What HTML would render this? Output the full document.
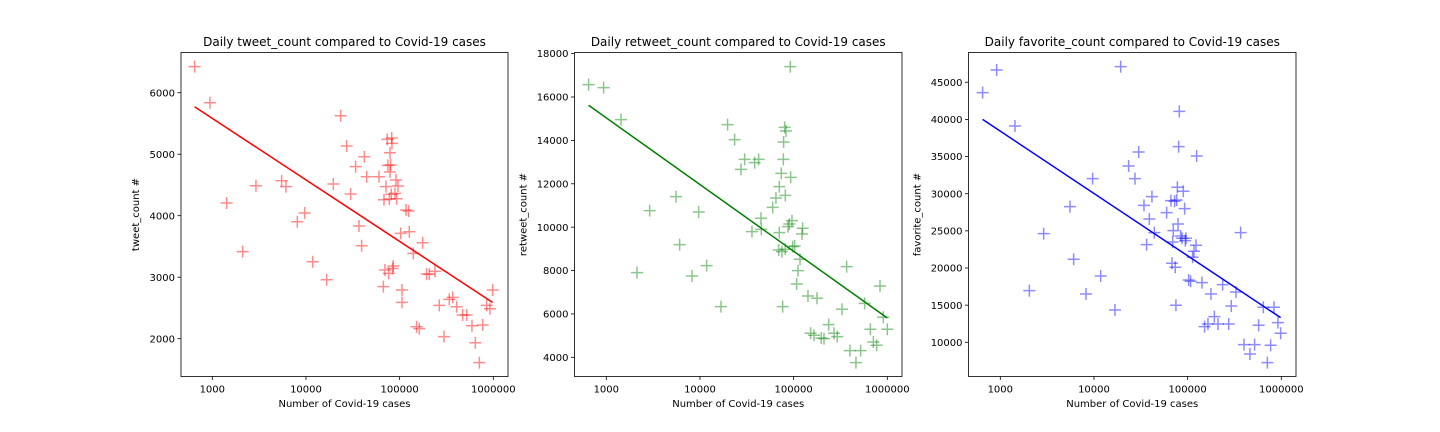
<!DOCTYPE html>
<html><head><meta charset="utf-8"><style>
html,body{margin:0;padding:0;background:#fff;}
svg{display:block;font-family:"DejaVu Sans","Liberation Sans",sans-serif;}
</style></head><body>
<svg id="fig" width="1440" height="432" viewBox="0 0 1440 432" xmlns="http://www.w3.org/2000/svg"></svg>
<script>
// ---- data ----
const tweetCases=[647,944,1422,2108,2925,5500,6110,8080,9680,11780,16630,19590,23440,27160,29990,33890,36810,39260,41980,44460,60120,66990,68070,71450,73790,75000,76380,77620,78890,78890,80170,81470,82220,82790,84140,85510,69660,89130,91410,92900,95940,102500,105900,105900,116900,124700,126800,139900,151700,162200,176000,194100,207500,238200,264900,297200,338800,368100,406000,470900,518800,591600,642700,709600,769100,849200,920400,984000];
const tweetCounts=[6423,5837,4206,3415,4488,4569,4472,3902,4043,3252,2959,4515,5626,5133,4352,4797,3832,3512,4959,4634,4634,2846,4260,4472,5241,4818,3062,4271,4710,5024,4824,4347,5263,5176,3144,3182,3117,4363,4580,4276,4482,3713,2791,2591,4092,4076,3740,3388,2195,2163,3561,3051,3051,3095,2542,2033,2640,2672,2520,2385,2385,2211,1935,1610,2222,2542,2488,2791];
const retweetCases=[647,937,1435,2125,2903,5546,6067,8219,9680,11780,16750,19720,23440,27420,29990,35890,38370,42270,44770,45190,59700,64710,69180,70310,70310,73790,75000,76380,77620,78160,80170,81470,82790,81470,87100,89950,92900,95940,97500,102500,107600,111200,116900,122700,124700,142200,151700,164800,177400,197200,210900,236600,269800,292400,328100,368100,399000,462400,518800,572800,659200,709600,769100,835700,905700,1000000,92040];
const retweetCounts=[16569,16431,14956,7903,10761,11406,9194,7749,10700,8226,6336,14725,14034,12666,13127,9793,12974,13127,10408,9900,10915,11345,8948,11867,9747,12482,8871,6336,13127,13926,14602,11468,14433,8979,10023,10146,12298,10300,9101,9132,7380,7995,8518,9685,9947,6827,5106,5014,6720,4891,4860,5506,5106,4953,6213,8180,4307,3754,4307,6489,5291,4707,4553,7288,5844,5291,17399];
const favCases=[647,914,1435,2042,2903,5546,6067,8219,9680,11780,16750,19280,23440,27420,29990,34200,36480,38990,41590,44060,59700,66370,68070,69180,70310,72610,73790,75000,76380,77620,78890,80170,81470,84140,87100,89950,92900,94410,95940,102500,107600,113000,116900,122700,124700,142200,151700,164800,177400,192800,210900,236600,274200,292400,328100,368100,399000,462400,518800,572800,642700,709600,769100,835700,920400,984000];
const favCounts=[43600,46650,39115,16953,24624,28258,21170,16505,32026,18927,14351,47099,33731,32026,35615,28437,23144,26598,29604,24759,27451,29066,20632,23503,25028,28976,20094,14979,29155,30860,25925,36333,41088,24310,23996,30322,27989,23682,23996,18389,18209,21439,22247,23054,35077,18030,12108,12467,16505,13454,12467,17761,12467,14890,16774,24759,9686,8430,9686,12288,14710,7264,9596,14710,12647,11211];
const xTickVals=[1000,10000,100000,1000000];
const tweetTicks=[2000,3000,4000,5000,6000];
const retweetTicks=[4000,6000,8000,10000,12000,14000,16000,18000];
const favTicks=[10000,15000,20000,25000,30000,35000,40000,45000];

const NS="http://www.w3.org/2000/svg";
const fig=document.getElementById('fig');
function mk(tag,attrs,parent){const e=document.createElementNS(NS,tag);for(const k in attrs)e.setAttribute(k,attrs[k]);(parent||fig).appendChild(e);return e;}

const panels=[
 {key:'tweet',title:'Daily tweet_count compared to Covid-19 cases',ylab:'tweet_count #',color:'#ff0000',cases:tweetCases,vals:tweetCounts,ticks:tweetTicks,
  left:181,right:508,x0:212.3,yRef:2000,yRefPx:338.7,ppu:0.0615},
 {key:'retweet',title:'Daily retweet_count compared to Covid-19 cases',ylab:'retweet_count #',color:'#008000',cases:retweetCases,vals:retweetCounts,ticks:retweetTicks,
  left:574.5,right:902,x0:606.3,yRef:4000,yRefPx:357.3,ppu:0.02169},
 {key:'favorite',title:'Daily favorite_count compared to Covid-19 cases',ylab:'favorite_count #',color:'#0000ff',cases:favCases,vals:favCounts,ticks:favTicks,
  left:968.5,right:1296,x0:1000.3,yRef:10000,yRefPx:342.3,ppu:0.00743}
];
const TOP=52.5,BOT=376.5,DEC=93.67;

panels.forEach(p=>{
 const g=mk('g',{});
 
 
 const X=v=>p.x0+(Math.log10(v)-3)*DEC;
 const Y=v=>p.yRefPx-(v-p.yRef)*p.ppu;
 const frame=mk('rect',{x:p.left,y:TOP,width:p.right-p.left,height:BOT-TOP,fill:'#fff',stroke:'#000','stroke-width':0.8},g);
 
 
 // x ticks
 xTickVals.forEach(v=>{
  const x=X(v);
  mk('line',{x1:x,x2:x,y1:BOT,y2:BOT+3.5,stroke:'#000','stroke-width':0.8},g);
  const t=mk('text',{x:x,y:BOT+16,'text-anchor':'middle','font-size':10,fill:'#000'},g);
  t.textContent=String(v);
  
  
 });
 // y ticks
 p.ticks.forEach(v=>{
  const y=Y(v);
  mk('line',{x1:p.left-3.5,x2:p.left,y1:y,y2:y,stroke:'#000','stroke-width':0.8},g);
  const t=mk('text',{x:p.left-6,y:y+3.6,'text-anchor':'end','font-size':10,fill:'#000'},g);
  t.textContent=String(v);
  
  
 });
 // points
 p.cases.forEach((c,i)=>{
  const x=X(c),y=Y(p.vals[i]),s=6;
  const m=mk('path',{d:`M${x-s},${y}H${x+s}M${x},${y-s}V${y+s}`,stroke:p.color,'stroke-width':1.5,'stroke-opacity':0.45,fill:'none'},g);
  
  
 });
 // regression
 let n=p.cases.length,sx=0,sy=0,sxx=0,sxy=0,mn=Infinity,mxv=-Infinity;
 p.cases.forEach((c,i)=>{const l=Math.log10(c);sx+=l;sy+=p.vals[i];sxx+=l*l;sxy+=l*p.vals[i];mn=Math.min(mn,c);mxv=Math.max(mxv,c);});
 const b=(n*sxy-sx*sy)/(n*sxx-sx*sx),a=(sy-b*sx)/n;
 const f=c=>a+b*Math.log10(c);
 const ln=mk('line',{x1:X(mn),y1:Y(f(mn)),x2:X(mxv),y2:Y(f(mxv)),stroke:p.color,'stroke-width':1.5},g);
 
 
 const cx=(p.left+p.right)/2;
 const tt=mk('text',{x:cx,y:46,'text-anchor':'middle','font-size':12,fill:'#000'},g);
 tt.textContent=p.title;
 
 
 const xl=mk('text',{x:cx,y:407,'text-anchor':'middle','font-size':10,fill:'#000'},g);
 xl.textContent='Number of Covid-19 cases';
 
 
 const ly=(TOP+BOT)/2, lx=p.left-(p.key==='tweet'?38:44)-4;
 const yl=mk('text',{x:lx,y:ly,'text-anchor':'middle','font-size':10,fill:'#000',transform:`rotate(-90 ${lx} ${ly})`},g);
 yl.textContent=p.ylab;
 
 
});
</script>
</body></html>
